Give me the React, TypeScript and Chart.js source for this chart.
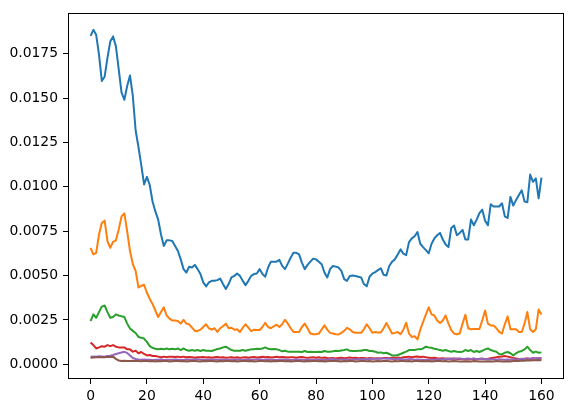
import React, { useEffect, useRef } from "react";
import { Chart, registerables } from "chart.js";

Chart.register(...registerables);

const xTicks = [0, 20, 40, 60, 80, 100, 120, 140, 160];
const yTicks = [0, 0.0025, 0.005, 0.0075, 0.01, 0.0125, 0.015, 0.0175];

const blue = [
  0.01850, 0.01884, 0.01856, 0.01744, 0.01596, 0.01620, 0.01726, 0.01819, 0.01847, 0.01791,
  0.01661, 0.01531, 0.01490, 0.01568, 0.01627, 0.01512, 0.01317, 0.01224, 0.01122, 0.01013,
  0.01056, 0.01010, 0.00917, 0.00861, 0.00815, 0.00731, 0.00666, 0.00698, 0.00698, 0.00694,
  0.00666, 0.00638, 0.00591, 0.00536, 0.00517, 0.00549, 0.00545, 0.00560, 0.00536, 0.00508,
  0.00461, 0.00439, 0.00461, 0.00470, 0.00470, 0.00474, 0.00483, 0.00452, 0.00424, 0.00452,
  0.00489, 0.00498, 0.00511, 0.00498, 0.00470, 0.00446, 0.00470, 0.00498, 0.00508, 0.00511,
  0.00536, 0.00508, 0.00493, 0.00545, 0.00578, 0.00578, 0.00578, 0.00588, 0.00554, 0.00536,
  0.00567, 0.00600, 0.00628, 0.00628, 0.00619, 0.00573, 0.00536, 0.00560, 0.00578, 0.00595,
  0.00591, 0.00578, 0.00564, 0.00517, 0.00489, 0.00536, 0.00554, 0.00550, 0.00545, 0.00526,
  0.00480, 0.00470, 0.00497, 0.00500, 0.00497, 0.00493, 0.00489, 0.00452, 0.00439, 0.00493,
  0.00511, 0.00519, 0.00530, 0.00541, 0.00504, 0.00500, 0.00554, 0.00578, 0.00591, 0.00619,
  0.00647, 0.00623, 0.00615, 0.00688, 0.00709, 0.00721, 0.00745, 0.00679, 0.00660, 0.00643,
  0.00625, 0.00679, 0.00709, 0.00727, 0.00740, 0.00703, 0.00675, 0.00660, 0.00768, 0.00781,
  0.00727, 0.00740, 0.00757, 0.00703, 0.00703, 0.00815, 0.00783, 0.00815, 0.00852, 0.00871,
  0.00809, 0.00783, 0.00902, 0.00889, 0.00889, 0.00889, 0.00907, 0.00833, 0.00824, 0.00943,
  0.00894, 0.00926, 0.00954, 0.00980, 0.00917, 0.00913, 0.01069, 0.01028, 0.01047, 0.00935,
  0.01051,
];

const orange = [
  0.00656, 0.00619, 0.00628, 0.00731, 0.00796, 0.00809, 0.00694, 0.00656, 0.00690, 0.00698,
  0.00759, 0.00833, 0.00850, 0.00749, 0.00638, 0.00564, 0.00526, 0.00433, 0.00442, 0.00448,
  0.00403, 0.00368, 0.00340, 0.00303, 0.00266, 0.00294, 0.00321, 0.00275, 0.00257, 0.00247,
  0.00247, 0.00244, 0.00229, 0.00251, 0.00229, 0.00225, 0.00206, 0.00188, 0.00188, 0.00195,
  0.00210, 0.00225, 0.00203, 0.00195, 0.00203, 0.00182, 0.00203, 0.00214, 0.00229, 0.00203,
  0.00206, 0.00195, 0.00197, 0.00182, 0.00206, 0.00225, 0.00206, 0.00186, 0.00195, 0.00193,
  0.00193, 0.00210, 0.00234, 0.00210, 0.00203, 0.00214, 0.00223, 0.00210, 0.00225, 0.00251,
  0.00229, 0.00203, 0.00182, 0.00182, 0.00182, 0.00210, 0.00229, 0.00203, 0.00173, 0.00169,
  0.00169, 0.00173, 0.00195, 0.00219, 0.00195, 0.00177, 0.00173, 0.00169, 0.00168, 0.00177,
  0.00188, 0.00205, 0.00197, 0.00182, 0.00177, 0.00177, 0.00177, 0.00197, 0.00225, 0.00203,
  0.00177, 0.00182, 0.00179, 0.00179, 0.00203, 0.00232, 0.00203, 0.00173, 0.00177, 0.00182,
  0.00169, 0.00195, 0.00234, 0.00173, 0.00154, 0.00158, 0.00140, 0.00195, 0.00238, 0.00281,
  0.00321, 0.00281, 0.00275, 0.00247, 0.00232, 0.00247, 0.00275, 0.00229, 0.00193, 0.00173,
  0.00169, 0.00173, 0.00229, 0.00279, 0.00203, 0.00197, 0.00199, 0.00199, 0.00199, 0.00247,
  0.00303, 0.00229, 0.00219, 0.00219, 0.00203, 0.00182, 0.00173, 0.00225, 0.00270, 0.00197,
  0.00197, 0.00197, 0.00182, 0.00182, 0.00229, 0.00294, 0.00197, 0.00182, 0.00197, 0.00309,
  0.00281,
];

const green = [
  0.00243, 0.00281, 0.00262, 0.00294, 0.00325, 0.00331, 0.00294, 0.00262, 0.00266, 0.00281,
  0.00275, 0.00270, 0.00266, 0.00229, 0.00201, 0.00188, 0.00176, 0.00154, 0.00149, 0.00145,
  0.00126, 0.00102, 0.00093, 0.00087, 0.00084, 0.00087, 0.00084, 0.00089, 0.00084, 0.00087,
  0.00084, 0.00089, 0.00080, 0.00089, 0.00080, 0.00076, 0.00080, 0.00076, 0.00080, 0.00075,
  0.00080, 0.00076, 0.00076, 0.00075, 0.00080, 0.00086, 0.00089, 0.00095, 0.00099, 0.00089,
  0.00080, 0.00076, 0.00076, 0.00076, 0.00080, 0.00076, 0.00080, 0.00084, 0.00084, 0.00087,
  0.00086, 0.00089, 0.00095, 0.00087, 0.00084, 0.00086, 0.00084, 0.00080, 0.00073, 0.00076,
  0.00071, 0.00071, 0.00071, 0.00071, 0.00071, 0.00069, 0.00075, 0.00069, 0.00071, 0.00069,
  0.00069, 0.00071, 0.00069, 0.00075, 0.00071, 0.00071, 0.00073, 0.00076, 0.00075, 0.00078,
  0.00080, 0.00084, 0.00076, 0.00075, 0.00075, 0.00076, 0.00076, 0.00080, 0.00080, 0.00075,
  0.00075, 0.00071, 0.00065, 0.00067, 0.00062, 0.00065, 0.00058, 0.00050, 0.00050, 0.00052,
  0.00058, 0.00065, 0.00071, 0.00080, 0.00080, 0.00080, 0.00084, 0.00084, 0.00089, 0.00099,
  0.00095, 0.00093, 0.00087, 0.00084, 0.00080, 0.00076, 0.00080, 0.00075, 0.00071, 0.00075,
  0.00071, 0.00069, 0.00071, 0.00080, 0.00075, 0.00080, 0.00069, 0.00075, 0.00069, 0.00076,
  0.00084, 0.00089, 0.00080, 0.00075, 0.00071, 0.00058, 0.00056, 0.00065, 0.00069, 0.00062,
  0.00050, 0.00062, 0.00071, 0.00075, 0.00084, 0.00099, 0.00080, 0.00065, 0.00071, 0.00065,
  0.00067,
];

const red = [
  0.00123, 0.00108, 0.00089, 0.00095, 0.00102, 0.00099, 0.00108, 0.00102, 0.00108, 0.00099,
  0.00095, 0.00095, 0.00095, 0.00084, 0.00084, 0.00071, 0.00076, 0.00062, 0.00069, 0.00058,
  0.00050, 0.00052, 0.00047, 0.00047, 0.00043, 0.00039, 0.00043, 0.00039, 0.00043, 0.00043,
  0.00041, 0.00043, 0.00040, 0.00043, 0.00039, 0.00041, 0.00040, 0.00037, 0.00040, 0.00039,
  0.00041, 0.00038, 0.00040, 0.00037, 0.00039, 0.00041, 0.00038, 0.00040, 0.00037, 0.00038,
  0.00040, 0.00037, 0.00039, 0.00036, 0.00038, 0.00040, 0.00037, 0.00039, 0.00041, 0.00038,
  0.00040, 0.00042, 0.00039, 0.00041, 0.00038, 0.00040, 0.00042, 0.00039, 0.00041, 0.00040,
  0.00038, 0.00040, 0.00039, 0.00037, 0.00039, 0.00041, 0.00038, 0.00036, 0.00038, 0.00040,
  0.00037, 0.00039, 0.00036, 0.00038, 0.00035, 0.00034, 0.00036, 0.00033, 0.00035, 0.00037,
  0.00034, 0.00036, 0.00038, 0.00035, 0.00037, 0.00034, 0.00036, 0.00035, 0.00033, 0.00035,
  0.00034, 0.00032, 0.00034, 0.00033, 0.00035, 0.00036, 0.00034, 0.00037, 0.00035, 0.00038,
  0.00036, 0.00039, 0.00041, 0.00043, 0.00040, 0.00042, 0.00044, 0.00041, 0.00043, 0.00039,
  0.00037, 0.00035, 0.00037, 0.00034, 0.00032, 0.00034, 0.00031, 0.00033, 0.00030, 0.00032,
  0.00029, 0.00031, 0.00028, 0.00030, 0.00027, 0.00029, 0.00031, 0.00028, 0.00030, 0.00032,
  0.00029, 0.00031, 0.00034, 0.00037, 0.00039, 0.00042, 0.00044, 0.00046, 0.00043, 0.00040,
  0.00036, 0.00033, 0.00030, 0.00028, 0.00031, 0.00033, 0.00030, 0.00034, 0.00032, 0.00035,
  0.00033,
];

const purple = [
  0.00043, 0.00044, 0.00042, 0.00045, 0.00044, 0.00043, 0.00046, 0.00048, 0.00052, 0.00058,
  0.00062, 0.00066, 0.00070, 0.00064, 0.00050, 0.00036, 0.00030, 0.00027, 0.00026, 0.00027,
  0.00025, 0.00026, 0.00024, 0.00026, 0.00025, 0.00027, 0.00025, 0.00024, 0.00026, 0.00025,
  0.00027, 0.00026, 0.00024, 0.00025, 0.00027, 0.00026, 0.00025, 0.00027, 0.00028, 0.00026,
  0.00025, 0.00024, 0.00026, 0.00025, 0.00027, 0.00026, 0.00024, 0.00025, 0.00026, 0.00024,
  0.00026, 0.00025, 0.00027, 0.00026, 0.00024, 0.00025, 0.00027, 0.00026, 0.00025, 0.00027,
  0.00028, 0.00026, 0.00025, 0.00027, 0.00026, 0.00025, 0.00024, 0.00026, 0.00025, 0.00027,
  0.00026, 0.00024, 0.00025, 0.00027, 0.00026, 0.00025, 0.00024, 0.00026, 0.00025, 0.00024,
  0.00026, 0.00027, 0.00025, 0.00024, 0.00026, 0.00028, 0.00030, 0.00027, 0.00026, 0.00028,
  0.00027, 0.00025, 0.00026, 0.00028, 0.00027, 0.00029, 0.00028, 0.00030, 0.00029, 0.00031,
  0.00030, 0.00032, 0.00031, 0.00033, 0.00032, 0.00031, 0.00033, 0.00030, 0.00029, 0.00031,
  0.00030, 0.00028, 0.00027, 0.00029, 0.00028, 0.00026, 0.00027, 0.00025, 0.00026, 0.00024,
  0.00025, 0.00027, 0.00026, 0.00028, 0.00027, 0.00029, 0.00031, 0.00030, 0.00032, 0.00031,
  0.00033, 0.00032, 0.00030, 0.00031, 0.00033, 0.00030, 0.00032, 0.00029, 0.00031, 0.00030,
  0.00028, 0.00030, 0.00027, 0.00029, 0.00026, 0.00028, 0.00027, 0.00025, 0.00027, 0.00026,
  0.00028, 0.00027, 0.00029, 0.00031, 0.00030, 0.00033, 0.00031, 0.00034, 0.00032, 0.00035,
  0.00034,
];

const brown = [
  0.00036, 0.00038, 0.00040, 0.00039, 0.00041, 0.00040, 0.00042, 0.00041, 0.00043, 0.00030,
  0.00021, 0.00019, 0.00020, 0.00018, 0.00019, 0.00020, 0.00018, 0.00019, 0.00017, 0.00018,
  0.00019, 0.00017, 0.00018, 0.00016, 0.00018, 0.00017, 0.00019, 0.00018, 0.00016, 0.00017,
  0.00018, 0.00019, 0.00017, 0.00018, 0.00016, 0.00017, 0.00018, 0.00019, 0.00017, 0.00016,
  0.00018, 0.00017, 0.00019, 0.00018, 0.00017, 0.00016, 0.00018, 0.00017, 0.00019, 0.00018,
  0.00017, 0.00018, 0.00016, 0.00017, 0.00019, 0.00018, 0.00017, 0.00018, 0.00016, 0.00017,
  0.00019, 0.00018, 0.00017, 0.00018, 0.00016, 0.00018, 0.00017, 0.00019, 0.00018, 0.00017,
  0.00018, 0.00016, 0.00017, 0.00018, 0.00019, 0.00017, 0.00016, 0.00018, 0.00017, 0.00018,
  0.00019, 0.00017, 0.00018, 0.00016, 0.00017, 0.00018, 0.00019, 0.00018, 0.00017, 0.00016,
  0.00018, 0.00017, 0.00019, 0.00018, 0.00016, 0.00017, 0.00018, 0.00019, 0.00017, 0.00018,
  0.00016, 0.00017, 0.00018, 0.00017, 0.00019, 0.00018, 0.00017, 0.00016, 0.00018, 0.00017,
  0.00019, 0.00018, 0.00017, 0.00018, 0.00016, 0.00018, 0.00019, 0.00017, 0.00018, 0.00017,
  0.00018, 0.00016, 0.00017, 0.00018, 0.00019, 0.00017, 0.00018, 0.00016, 0.00017, 0.00018,
  0.00017, 0.00015, 0.00016, 0.00017, 0.00015, 0.00016, 0.00018, 0.00017, 0.00016, 0.00015,
  0.00016, 0.00017, 0.00015, 0.00016, 0.00018, 0.00017, 0.00016, 0.00015, 0.00017, 0.00016,
  0.00018, 0.00020, 0.00019, 0.00021, 0.00020, 0.00022, 0.00021, 0.00023, 0.00022, 0.00024,
  0.00023,
];

const seriesList = [blue, orange, green, red, purple, brown];
const colors = ["#1f77b4", "#ff7f0e", "#2ca02c", "#d62728", "#9467bd", "#8c564b"];

const FONT = { family: "'DejaVu Sans', sans-serif", size: 13.9 };

const framePlugin = {
  id: "frame",
  afterDraw(chart: any) {
    const { ctx, chartArea } = chart;
    const l = Math.round(chartArea.left) + 0.5;
    const t = Math.round(chartArea.top) + 0.5;
    const r = Math.round(chartArea.right) - 0.5;
    const b = Math.round(chartArea.bottom) - 0.5;
    ctx.save();
    ctx.strokeStyle = "#000";
    ctx.lineWidth = 1;
    ctx.strokeRect(l, t, r - l, b - t);
    ctx.restore();
  },
};

export default function App() {
  const ref = useRef<HTMLCanvasElement | null>(null);

  useEffect(() => {
    if (!ref.current) return;
    const chart = new Chart(ref.current, {
      type: "line",
      data: {
        datasets: seriesList.map((s, k) => ({
          data: s.map((v, i) => ({ x: i, y: v })),
          borderColor: colors[k],
          backgroundColor: colors[k],
          borderWidth: 2,
          pointRadius: 0,
          tension: 0,
          fill: false,
          borderJoinStyle: "round" as const,
          order: seriesList.length - k,
        })),
      },
      options: {
        animation: false,
        responsive: false,
        devicePixelRatio: 1,
        layout: { padding: { left: 0, top: 10, right: 9, bottom: 0 } },
        plugins: {
          legend: { display: false },
          tooltip: { enabled: false },
        },
        scales: {
          x: {
            type: "linear",
            min: -8,
            max: 168,
            afterFit: (scale: any) => {
              scale.height = 34;
            },
            afterBuildTicks: (scale: any) => {
              scale.ticks = xTicks.map((v) => ({ value: v }));
            },
            border: { display: false },
            grid: {
              display: true,
              drawOnChartArea: false,
              drawTicks: true,
              tickLength: 5,
              color: "#000",
              lineWidth: 1,
            },
            ticks: {
              autoSkip: false,
              maxRotation: 0,
              color: "#000",
              font: FONT,
              padding: 4,
              callback: (v: any) => String(v),
            },
          },
          y: {
            type: "linear",
            min: -0.00083,
            max: 0.01977,
            afterFit: (scale: any) => {
              scale.width = 68;
            },
            afterBuildTicks: (scale: any) => {
              scale.ticks = yTicks.map((v) => ({ value: v }));
            },
            border: { display: false },
            grid: {
              display: true,
              drawOnChartArea: false,
              drawTicks: true,
              tickLength: 5,
              color: "#000",
              lineWidth: 1,
            },
            ticks: {
              autoSkip: false,
              color: "#000",
              font: FONT,
              padding: 5,
              callback: (v: any) => Number(v).toFixed(4),
            },
          },
        },
      },
      plugins: [framePlugin],
    } as any);
    return () => chart.destroy();
  }, []);

  return (
    <canvas
      ref={ref}
      width={573}
      height={413}
      style={{ position: "absolute", left: 0, top: 0, width: 573, height: 413 }}
    />
  );
}
